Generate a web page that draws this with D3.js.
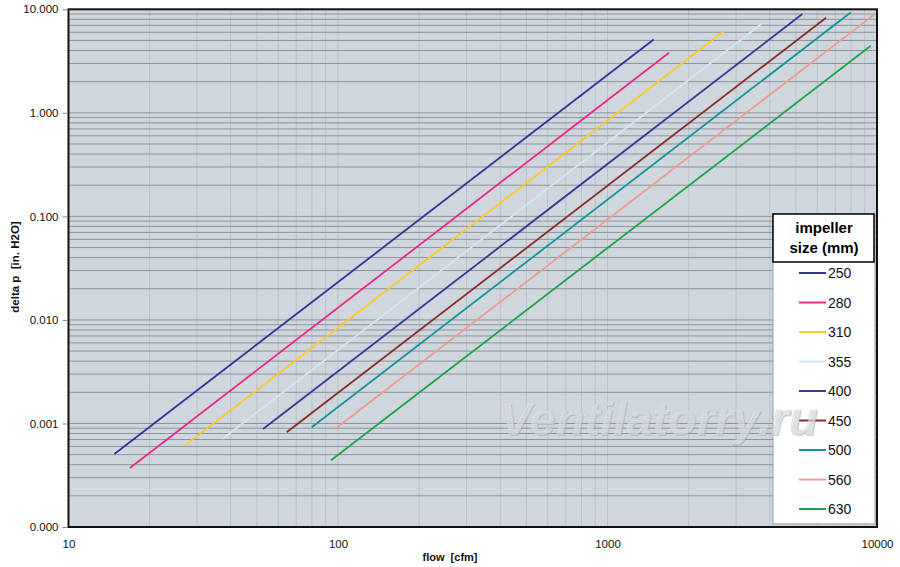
<!DOCTYPE html>
<html>
<head>
<meta charset="utf-8">
<script src="https://cdn.jsdelivr.net/npm/d3@7"></script>
<style>
  body { margin: 0; background: #fff; }
  text { font-family: "Liberation Sans", Arial, sans-serif; }
</style>
</head>
<body>
<div class="chart"></div>
<script>
// impeller sizes and the two end points of each curve (flow in cfm, delta p in in. H2O)
const sizes = ["250", "280", "310", "355", "400", "450", "500", "560", "630"];
const colors = ["#333399", "#f0288c", "#ffc926", "#cce9f5", "#3a3a96", "#8b2c2c", "#13979b", "#f29a92", "#1aa64b"];
const flowStart = [14.8, 16.9, 26.9, 37.2, 52.7, 64.5, 79.9, 98.9, 94.2];
const flowEnd = [1484, 1691, 2690, 3735, 5284, 6471, 7986, 9916, 9483];
const dpStart = [0.000507, 0.000372, 0.000607, 0.000708, 0.000885, 0.000822, 0.000919, 0.000910, 0.000441];
const dpEnd = [5.11, 3.80, 6.11, 7.24, 8.99, 8.28, 9.31, 9.19, 4.44];

const xTicks = [10, 100, 1000, 10000];
const yTicks = [0.0001, 0.001, 0.01, 0.1, 1, 10];

const svgWidth = 900;
const svgHeight = 567;
const plot = { left: 68.5, right: 877, top: 9.3, bottom: 527 };

const svg = d3.select(".chart")
    .append("svg")
    .attr("width", svgWidth)
    .attr("height", svgHeight);

const x = d3.scaleLog().domain([10, 10000]).range([plot.left, plot.right]);
const y = d3.scaleLog().domain([0.0001, 10]).range([plot.bottom, plot.top]);

// plot background
svg.append("rect")
    .attr("x", plot.left)
    .attr("y", plot.top)
    .attr("width", plot.right - plot.left)
    .attr("height", plot.bottom - plot.top)
    .attr("fill", "#cfd6de");

// minor grid values (1..9 of each decade)
const xGrid = [];
for (let d = 10; d < 10000; d *= 10) {
    for (let m = 1; m < 10; m++) if (d * m > 10) xGrid.push(d * m);
}
const yGrid = [];
for (let d = 0.0001; d < 9; d *= 10) {
    for (let m = 1; m < 10; m++) if (d * m > 0.00011) yGrid.push(d * m);
}

svg.append("g")
    .selectAll("line")
    .data(xGrid)
    .enter()
    .append("line")
    .attr("x1", d => x(d))
    .attr("x2", d => x(d))
    .attr("y1", plot.top)
    .attr("y2", plot.bottom)
    .attr("stroke", "#b9c1c9")
    .attr("stroke-width", 1);

svg.append("g")
    .selectAll("line")
    .data(yGrid)
    .enter()
    .append("line")
    .attr("x1", plot.left)
    .attr("x2", plot.right)
    .attr("y1", d => y(d))
    .attr("y2", d => y(d))
    .attr("stroke", "#8d949b")
    .attr("stroke-width", 1);

// curves
const curves = sizes.map((s, i) => ({
    size: s,
    color: colors[i],
    pts: [[flowStart[i], dpStart[i]], [flowEnd[i], dpEnd[i]]]
}));

const line = d3.line()
    .x(p => x(p[0]))
    .y(p => y(p[1]));

svg.append("g")
    .selectAll("path")
    .data(curves)
    .enter()
    .append("path")
    .attr("d", d => line(d.pts))
    .attr("fill", "none")
    .attr("stroke", d => d.color)
    .attr("stroke-width", 1.8);

// frame
svg.append("rect")
    .attr("x", plot.left)
    .attr("y", plot.top)
    .attr("width", plot.right - plot.left)
    .attr("height", plot.bottom - plot.top)
    .attr("fill", "none")
    .attr("stroke", "#111")
    .attr("stroke-width", 2);

// axes
const leftAxis = d3.axisLeft(y)
    .tickValues(yTicks)
    .tickFormat(d3.format(".3f"))
    .tickSize(5)
    .tickPadding(4);

const yAxis = svg.append("g")
    .attr("transform", `translate(${plot.left - 1},0)`)
    .call(leftAxis);
yAxis.select(".domain").remove();
yAxis.selectAll("line").attr("stroke", "#888");
yAxis.selectAll("text")
    .style("font-size", "11.5px")
    .attr("fill", "#111");

const bottomAxis = d3.axisBottom(x)
    .tickValues(xTicks)
    .tickFormat(d3.format("d"))
    .tickSize(0)
    .tickPadding(13);

const xAxis = svg.append("g")
    .attr("transform", `translate(0,${plot.bottom})`)
    .call(bottomAxis);
xAxis.select(".domain").remove();
xAxis.selectAll("text")
    .style("font-size", "11.5px")
    .attr("fill", "#111");

// axis titles
svg.append("text")
    .attr("x", 450)
    .attr("y", 561)
    .attr("text-anchor", "middle")
    .style("font-size", "11px")
    .style("font-weight", "bold")
    .attr("fill", "#111")
    .attr("xml:space", "preserve")
    .text("flow  [cfm]");

svg.append("text")
    .attr("transform", "rotate(-90)")
    .attr("x", -267)
    .attr("y", 19)
    .attr("text-anchor", "middle")
    .style("font-size", "11.5px")
    .style("font-weight", "bold")
    .attr("fill", "#111")
    .attr("xml:space", "preserve")
    .text("delta p  [in. H2O]");

// legend
const legend = svg.append("g");

legend.append("rect")
    .attr("x", 773)
    .attr("y", 214)
    .attr("width", 102)
    .attr("height", 310)
    .attr("fill", "#fff")
    .attr("stroke", "#999")
    .attr("stroke-width", 1);

legend.append("rect")
    .attr("x", 773)
    .attr("y", 214)
    .attr("width", 101)
    .attr("height", 48)
    .attr("fill", "#fff")
    .attr("stroke", "#000")
    .attr("stroke-width", 1.5);

legend.append("text")
    .attr("x", 824)
    .attr("y", 233)
    .attr("text-anchor", "middle")
    .style("font-size", "15px")
    .style("font-weight", "bold")
    .text("impeller");

legend.append("text")
    .attr("x", 824)
    .attr("y", 253)
    .attr("text-anchor", "middle")
    .style("font-size", "15px")
    .style("font-weight", "bold")
    .text("size (mm)");

const items = legend.selectAll("g.item")
    .data(curves)
    .enter()
    .append("g")
    .attr("class", "item")
    .attr("transform", (d, i) => `translate(0,${273 + i * 29.5})`);

items.append("line")
    .attr("x1", 799)
    .attr("x2", 826)
    .attr("stroke", d => d.color)
    .attr("stroke-width", 2);

items.append("text")
    .attr("x", 828)
    .attr("y", 5)
    .style("font-size", "14px")
    .attr("fill", "#111")
    .text(d => d.size);

// watermark: soft shadow plus light face
const mark = svg.append("g")
    .style("font-size", "47px")
    .style("font-style", "italic")
    .style("font-weight", "bold");

mark.append("text")
    .attr("x", 501)
    .attr("y", 436)
    .attr("fill", "#8f98a1")
    .attr("fill-opacity", 0.45)
    .text("Ventilatorry.ru");

mark.append("text")
    .attr("x", 500)
    .attr("y", 435)
    .attr("fill", "#eef1f4")
    .attr("fill-opacity", 0.55)
    .attr("stroke", "#c3cad1")
    .attr("stroke-width", 0.5)
    .text("Ventilatorry.ru");
</script>
</body>
</html>
